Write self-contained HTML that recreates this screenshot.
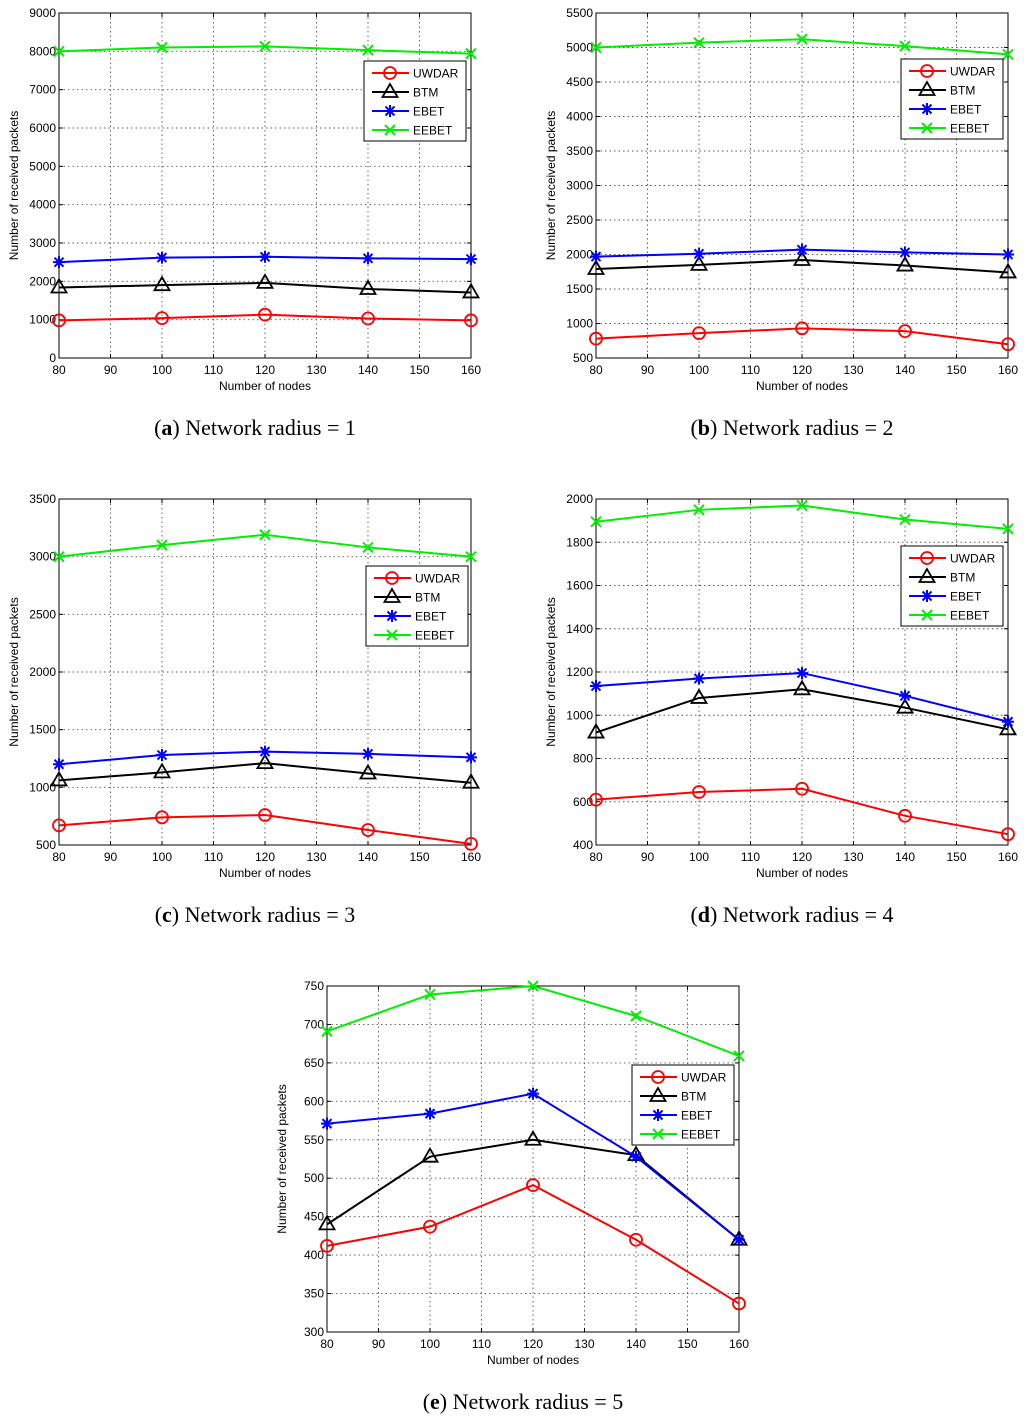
<!DOCTYPE html>
<html><head><meta charset="utf-8"><style>
body{margin:0;background:#fff;}
svg{display:block;}
</style></head><body>
<svg id="fig" width="1024" height="1422" viewBox="0 0 1024 1422" xmlns="http://www.w3.org/2000/svg"></svg>
<script>
const xValues = [80, 100, 120, 140, 160];
const xTicks = [80, 90, 100, 110, 120, 130, 140, 150, 160];
const seriesNames = ["UWDAR", "BTM", "EBET", "EEBET"];
const seriesColors = ["#ff0000", "#000000", "#0000ff", "#00ee00"];
const seriesMarkers = ["circle", "triangle", "star", "x"];

const aUWDAR = [980, 1040, 1130, 1030, 980];
const aBTM = [1840, 1900, 1960, 1800, 1710];
const aEBET = [2500, 2620, 2640, 2600, 2580];
const aEEBET = [8000, 8100, 8130, 8030, 7940];
const aYTicks = [0, 1000, 2000, 3000, 4000, 5000, 6000, 7000, 8000, 9000];

const bUWDAR = [780, 860, 930, 890, 700];
const bBTM = [1790, 1850, 1920, 1840, 1740];
const bEBET = [1970, 2010, 2070, 2030, 2000];
const bEEBET = [5000, 5070, 5120, 5020, 4900];
const bYTicks = [500, 1000, 1500, 2000, 2500, 3000, 3500, 4000, 4500, 5000, 5500];

const cUWDAR = [670, 740, 760, 630, 510];
const cBTM = [1060, 1130, 1210, 1120, 1040];
const cEBET = [1200, 1280, 1310, 1290, 1260];
const cEEBET = [3000, 3100, 3190, 3080, 3000];
const cYTicks = [500, 1000, 1500, 2000, 2500, 3000, 3500];

const dUWDAR = [610, 645, 660, 535, 450];
const dBTM = [920, 1080, 1120, 1035, 935];
const dEBET = [1135, 1170, 1195, 1090, 970];
const dEEBET = [1895, 1950, 1970, 1905, 1862];
const dYTicks = [400, 600, 800, 1000, 1200, 1400, 1600, 1800, 2000];

const eUWDAR = [412, 437, 491, 420, 337];
const eBTM = [440, 528, 550, 530, 420];
const eEBET = [571, 584, 610, 528, 420];
const eEEBET = [691, 739, 750, 711, 659];
const eYTicks = [300, 350, 400, 450, 500, 550, 600, 650, 700, 750];

const NS = "http://www.w3.org/2000/svg";
const svg = document.getElementById("fig");
function mk(tag, attrs, parent){
  const e = document.createElementNS(NS, tag);
  for (const k in attrs) e.setAttribute(k, attrs[k]);
  (parent || svg).appendChild(e);
  return e;
}
function marker(g, type, x, y, color){
  let m;
  if (type === "circle") m = mk("circle", {cx:x, cy:y, r:6, fill:"none", stroke:color, "stroke-width":1.8}, g);
  else if (type === "triangle") m = mk("polygon", {points:`${x},${y-8} ${x-7.5},${y+5} ${x+7.5},${y+5}`, fill:"none", stroke:color, "stroke-width":1.8}, g);
  else if (type === "star") m = mk("path", {d:`M${x-6},${y}H${x+6}M${x},${y-6}V${y+6}M${x-4.5},${y-4.5}L${x+4.5},${y+4.5}M${x-4.5},${y+4.5}L${x+4.5},${y-4.5}`, stroke:color, "stroke-width":2}, g);
  else m = mk("path", {d:`M${x-5},${y-5}L${x+5},${y+5}M${x-5},${y+5}L${x+5},${y-5}`, stroke:color, "stroke-width":2}, g);
  
  
}
function panel(id, L, T, R, B, ymin, ymax, yTicks, data, leg, cap, capX, capY){
  const g = mk("g", {});
  
  
  const sx = v => L + (v - 80) / 80 * (R - L);
  const sy = v => B - (v - ymin) / (ymax - ymin) * (B - T);
  mk("rect", {x:L, y:T, width:R-L, height:B-T, fill:"#fff"}, g);
  xTicks.forEach(t => {
    const x = sx(t);
    if (t > 80 && t < 160) mk("line", {x1:x, y1:T, x2:x, y2:B, stroke:"#555", "stroke-width":0.9, "stroke-dasharray":"1.5,3"}, g);
    mk("line", {x1:x, y1:B, x2:x, y2:B-4, stroke:"#000"}, g);
    mk("line", {x1:x, y1:T, x2:x, y2:T+4, stroke:"#000"}, g);
    const tx = mk("text", {x:x, y:B+16, "text-anchor":"middle", "font-size":12, "font-family":"Liberation Sans, sans-serif"}, g);
    tx.textContent = t;
    
    
  });
  yTicks.forEach(t => {
    const y = sy(t);
    if (t > ymin && t < ymax) mk("line", {x1:L, y1:y, x2:R, y2:y, stroke:"#555", "stroke-width":0.9, "stroke-dasharray":"1.5,3"}, g);
    mk("line", {x1:L, y1:y, x2:L+4, y2:y, stroke:"#000"}, g);
    mk("line", {x1:R, y1:y, x2:R-4, y2:y, stroke:"#000"}, g);
    const tx = mk("text", {x:L-3, y:y+4, "text-anchor":"end", "font-size":12, "font-family":"Liberation Sans, sans-serif"}, g);
    tx.textContent = t;
    
    
  });
  mk("rect", {x:L, y:T, width:R-L, height:B-T, fill:"none", stroke:"#000", "stroke-width":1}, g);
  data.forEach((arr, si) => {
    const pts = arr.map((v, i) => sx(xValues[i]) + "," + sy(v)).join(" ");
    const pl = mk("polyline", {points:pts, fill:"none", stroke:seriesColors[si], "stroke-width":2}, g);
    
    
    arr.forEach((v, i) => marker(g, seriesMarkers[si], sx(xValues[i]), sy(v), seriesColors[si]));
  });
  const xl = mk("text", {x:(L+R)/2, y:B+32, "text-anchor":"middle", "font-size":12, "font-family":"Liberation Sans, sans-serif"}, g);
  xl.textContent = "Number of nodes";
  
  
  const yl = mk("text", {x:0, y:0, "text-anchor":"middle", "font-size":12, "font-family":"Liberation Sans, sans-serif", transform:`translate(${L-41},${(T+B)/2}) rotate(-90)`}, g);
  yl.textContent = "Number of received packets";
  
  
  const lg = mk("g", {}, g);
  
  
  mk("rect", {x:leg[0], y:leg[1], width:102, height:80, fill:"#fff", stroke:"#000", "stroke-width":1}, lg);
  seriesNames.forEach((n, i) => {
    const y = leg[1] + 12 + i * 19;
    mk("line", {x1:leg[0]+8, y1:y, x2:leg[0]+45, y2:y, stroke:seriesColors[i], "stroke-width":2}, lg);
    marker(lg, seriesMarkers[i], leg[0]+26, y, seriesColors[i]);
    const t = mk("text", {x:leg[0]+49, y:y+4.5, "font-size":12, "font-family":"Liberation Sans, sans-serif"}, lg);
    t.textContent = n;
    
    
  });
  const c = mk("text", {x:capX, y:capY, "text-anchor":"middle", "font-size":22, "font-family":"Liberation Serif, serif"}, g);
  c.innerHTML = `(<tspan font-weight="bold">${cap[0]}</tspan>) Network radius = ${cap[1]}`;
  
  
}
panel("a", 59, 13, 471, 358, 0, 9000, aYTicks, [aUWDAR, aBTM, aEBET, aEEBET], [364, 61], ["a", 1], 255, 435);
panel("b", 596, 13, 1008, 358, 500, 5500, bYTicks, [bUWDAR, bBTM, bEBET, bEEBET], [901, 59], ["b", 2], 792, 435);
panel("c", 59, 499, 471, 845, 500, 3500, cYTicks, [cUWDAR, cBTM, cEBET, cEEBET], [366, 566], ["c", 3], 255, 922);
panel("d", 596, 499, 1008, 845, 400, 2000, dYTicks, [dUWDAR, dBTM, dEBET, dEEBET], [901, 546], ["d", 4], 792, 922);
panel("e", 327, 986, 739, 1332, 300, 750, eYTicks, [eUWDAR, eBTM, eEBET, eEEBET], [632, 1065], ["e", 5], 523, 1409);
</script>
</body></html>
